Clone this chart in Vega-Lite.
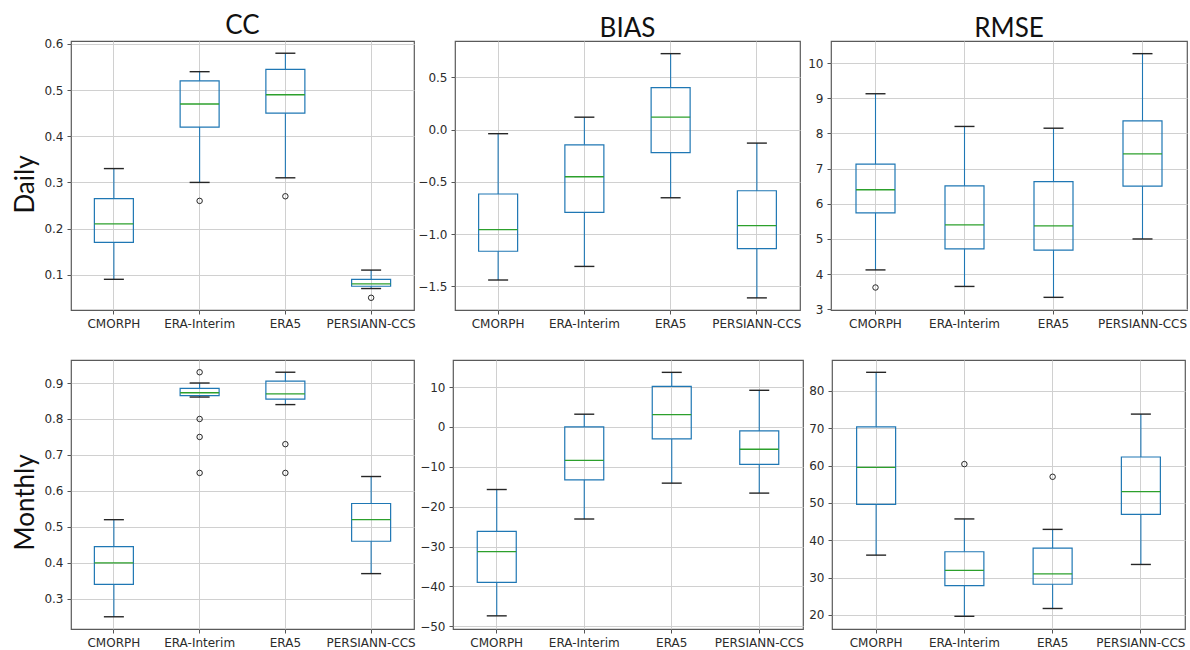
{
 "$schema": "https://vega.github.io/schema/vega-lite/v6.json",
 "padding": {"left": 11, "top": 12, "right": 0, "bottom": 0},
 "background": "white",
 "datasets": {
  "d": [
   {"t":"box","m":"CC","s":"Daily","p":"CMORPH","lo":0.09,"q1":0.17,"med":0.21,"q3":0.265,"hi":0.33},
   {"t":"box","m":"CC","s":"Daily","p":"ERA-Interim","lo":0.30,"q1":0.42,"med":0.47,"q3":0.52,"hi":0.54},
   {"t":"box","m":"CC","s":"Daily","p":"ERA5","lo":0.31,"q1":0.45,"med":0.49,"q3":0.545,"hi":0.58},
   {"t":"box","m":"CC","s":"Daily","p":"PERSIANN-CCS","lo":0.07,"q1":0.075,"med":0.08,"q3":0.09,"hi":0.11},
   {"t":"out","m":"CC","s":"Daily","p":"ERA-Interim","v":0.26},
   {"t":"out","m":"CC","s":"Daily","p":"ERA5","v":0.27},
   {"t":"out","m":"CC","s":"Daily","p":"PERSIANN-CCS","v":0.05},
   {"t":"box","m":"BIAS","s":"Daily","p":"CMORPH","lo":-1.44,"q1":-1.165,"med":-0.958,"q3":-0.617,"hi":-0.04},
   {"t":"box","m":"BIAS","s":"Daily","p":"ERA-Interim","lo":-1.31,"q1":-0.793,"med":-0.452,"q3":-0.146,"hi":0.118},
   {"t":"box","m":"BIAS","s":"Daily","p":"ERA5","lo":-0.653,"q1":-0.222,"med":0.118,"q3":0.40,"hi":0.726},
   {"t":"box","m":"BIAS","s":"Daily","p":"PERSIANN-CCS","lo":-1.611,"q1":-1.14,"med":-0.92,"q3":-0.586,"hi":-0.13},
   {"t":"box","m":"RMSE","s":"Daily","p":"CMORPH","lo":4.12,"q1":5.74,"med":6.40,"q3":7.13,"hi":9.13},
   {"t":"box","m":"RMSE","s":"Daily","p":"ERA-Interim","lo":3.65,"q1":4.72,"med":5.40,"q3":6.51,"hi":8.20},
   {"t":"box","m":"RMSE","s":"Daily","p":"ERA5","lo":3.34,"q1":4.68,"med":5.37,"q3":6.63,"hi":8.15},
   {"t":"box","m":"RMSE","s":"Daily","p":"PERSIANN-CCS","lo":5.0,"q1":6.50,"med":7.42,"q3":8.36,"hi":10.27},
   {"t":"out","m":"RMSE","s":"Daily","p":"CMORPH","v":3.62},
   {"t":"box","m":"CC","s":"Monthly","p":"CMORPH","lo":0.25,"q1":0.34,"med":0.40,"q3":0.445,"hi":0.52},
   {"t":"box","m":"CC","s":"Monthly","p":"ERA-Interim","lo":0.861,"q1":0.865,"med":0.873,"q3":0.885,"hi":0.90},
   {"t":"box","m":"CC","s":"Monthly","p":"ERA5","lo":0.84,"q1":0.855,"med":0.87,"q3":0.905,"hi":0.93},
   {"t":"box","m":"CC","s":"Monthly","p":"PERSIANN-CCS","lo":0.37,"q1":0.46,"med":0.52,"q3":0.565,"hi":0.64},
   {"t":"out","m":"CC","s":"Monthly","p":"ERA-Interim","v":0.93},
   {"t":"out","m":"CC","s":"Monthly","p":"ERA-Interim","v":0.80},
   {"t":"out","m":"CC","s":"Monthly","p":"ERA-Interim","v":0.75},
   {"t":"out","m":"CC","s":"Monthly","p":"ERA-Interim","v":0.65},
   {"t":"out","m":"CC","s":"Monthly","p":"ERA5","v":0.73},
   {"t":"out","m":"CC","s":"Monthly","p":"ERA5","v":0.65},
   {"t":"box","m":"BIAS","s":"Monthly","p":"CMORPH","lo":-47.4,"q1":-39.0,"med":-31.3,"q3":-26.2,"hi":-15.7},
   {"t":"box","m":"BIAS","s":"Monthly","p":"ERA-Interim","lo":-23.1,"q1":-13.3,"med":-8.4,"q3":0.0,"hi":3.2},
   {"t":"box","m":"BIAS","s":"Monthly","p":"ERA5","lo":-14.1,"q1":-3.0,"med":3.1,"q3":10.2,"hi":13.7},
   {"t":"box","m":"BIAS","s":"Monthly","p":"PERSIANN-CCS","lo":-16.6,"q1":-9.4,"med":-5.6,"q3":-1.0,"hi":9.2},
   {"t":"box","m":"RMSE","s":"Monthly","p":"CMORPH","lo":36.0,"q1":49.6,"med":59.5,"q3":70.4,"hi":85.0},
   {"t":"box","m":"RMSE","s":"Monthly","p":"ERA-Interim","lo":19.6,"q1":27.8,"med":31.9,"q3":36.9,"hi":45.7},
   {"t":"box","m":"RMSE","s":"Monthly","p":"ERA5","lo":21.7,"q1":28.2,"med":31.0,"q3":37.9,"hi":42.9},
   {"t":"box","m":"RMSE","s":"Monthly","p":"PERSIANN-CCS","lo":33.5,"q1":46.9,"med":53.0,"q3":62.3,"hi":73.8},
   {"t":"out","m":"RMSE","s":"Monthly","p":"ERA-Interim","v":60.4},
   {"t":"out","m":"RMSE","s":"Monthly","p":"ERA5","v":57.0}
  ]
 },
 "config": {
  "view": {"stroke": "#5a5a5a", "strokeWidth": 1.2},
  "axis": {"grid": true, "gridColor": "#d0d0d0", "gridWidth": 1, "domain": false, "labelFont": "DejaVu Sans", "labelFontSize": 12, "labelColor": "#2b2b2b", "tickColor": "#555555", "tickSize": 4, "labelPadding": 4, "labelOverlap": false, "titleFont": "Lato", "titleFontSize": 26, "titleFontWeight": "normal", "titleColor": "#111111"},
  "axisY": {"tickCount": 20},
  "title": {"font": "Lato", "fontSize": 26, "fontWeight": "normal", "color": "#111111", "baseline": "alphabetic", "offset": -1, "frame": "group", "anchor": "middle"}
 },
 "spacing": 29,
 "vconcat": [
  {"spacing": 1, "hconcat": [
   {"width": 343, "height": 269, "title": "CC",
    "data": {"name": "d"},
    "transform": [{"filter": "datum.m=='CC' && datum.s=='Daily'"}],
    "encoding": {"x": {"field": "p", "type": "nominal", "title": null, "scale": {"domain": ["CMORPH","ERA-Interim","ERA5","PERSIANN-CCS"], "paddingInner": 0, "paddingOuter": 0}, "axis": {"labelAngle": 0, "bandPosition": 0.5, "grid": true}}},
    "layer": [
     {"transform": [{"filter": "datum.t=='box'"}], "mark": {"type": "rule", "color": "#1f77b4", "strokeWidth": 1.1}, "encoding": {"y": {"field": "lo", "type": "quantitative", "title": "Daily", "scale": {"domain": [0.0235, 0.6065], "nice": false, "zero": false}, "axis": {"values": [0.1,0.2,0.3,0.4,0.5,0.6], "format": ".1f", "titleX": -38, "titleY": 143, "titleBaseline": "alphabetic"}}, "y2": {"field": "q1"}}},
     {"transform": [{"filter": "datum.t=='box'"}], "mark": {"type": "rule", "color": "#1f77b4", "strokeWidth": 1.1}, "encoding": {"y": {"field": "q3", "type": "quantitative", "title": "Daily"}, "y2": {"field": "hi"}}},
     {"transform": [{"filter": "datum.t=='box'"}], "mark": {"type": "bar", "size": 39, "fill": "transparent", "stroke": "#1f77b4", "strokeWidth": 1.2}, "encoding": {"y": {"field": "q1", "type": "quantitative", "title": "Daily"}, "y2": {"field": "q3"}}},
     {"transform": [{"filter": "datum.t=='box'"}], "mark": {"type": "tick", "size": 20, "thickness": 1.4, "color": "#262626", "opacity": 1}, "encoding": {"y": {"field": "lo", "type": "quantitative", "title": "Daily"}}},
     {"transform": [{"filter": "datum.t=='box'"}], "mark": {"type": "tick", "size": 20, "thickness": 1.4, "color": "#262626", "opacity": 1}, "encoding": {"y": {"field": "hi", "type": "quantitative", "title": "Daily"}}},
     {"transform": [{"filter": "datum.t=='box'"}], "mark": {"type": "tick", "size": 39, "thickness": 1.3, "color": "#2ca02c", "opacity": 1}, "encoding": {"y": {"field": "med", "type": "quantitative", "title": "Daily"}}},
     {"transform": [{"filter": "datum.t=='out'"}], "mark": {"type": "point", "shape": "circle", "filled": false, "size": 30, "color": "#262626", "strokeWidth": 1, "opacity": 1}, "encoding": {"y": {"field": "v", "type": "quantitative", "title": "Daily"}}}
    ]},
   {"spacing": 5, "hconcat": [
    {"width": 345, "height": 269, "title": "BIAS",
     "data": {"name": "d"},
     "transform": [{"filter": "datum.m=='BIAS' && datum.s=='Daily'"}],
     "encoding": {"x": {"field": "p", "type": "nominal", "title": null, "scale": {"domain": ["CMORPH","ERA-Interim","ERA5","PERSIANN-CCS"], "paddingInner": 0, "paddingOuter": 0}, "axis": {"labelAngle": 0, "bandPosition": 0.5, "grid": true}}},
     "layer": [
      {"transform": [{"filter": "datum.t=='box'"}], "mark": {"type": "rule", "color": "#1f77b4", "strokeWidth": 1.1}, "encoding": {"y": {"field": "lo", "type": "quantitative", "title": null, "scale": {"domain": [-1.727, 0.847], "nice": false, "zero": false}, "axis": {"values": [-1.5,-1,-0.5,0,0.5], "format": ".1f"}}, "y2": {"field": "q1"}}},
      {"transform": [{"filter": "datum.t=='box'"}], "mark": {"type": "rule", "color": "#1f77b4", "strokeWidth": 1.1}, "encoding": {"y": {"field": "q3", "type": "quantitative", "title": null}, "y2": {"field": "hi"}}},
      {"transform": [{"filter": "datum.t=='box'"}], "mark": {"type": "bar", "size": 39, "fill": "transparent", "stroke": "#1f77b4", "strokeWidth": 1.2}, "encoding": {"y": {"field": "q1", "type": "quantitative", "title": null}, "y2": {"field": "q3"}}},
      {"transform": [{"filter": "datum.t=='box'"}], "mark": {"type": "tick", "size": 20, "thickness": 1.4, "color": "#262626", "opacity": 1}, "encoding": {"y": {"field": "lo", "type": "quantitative", "title": null}}},
      {"transform": [{"filter": "datum.t=='box'"}], "mark": {"type": "tick", "size": 20, "thickness": 1.4, "color": "#262626", "opacity": 1}, "encoding": {"y": {"field": "hi", "type": "quantitative", "title": null}}},
      {"transform": [{"filter": "datum.t=='box'"}], "mark": {"type": "tick", "size": 39, "thickness": 1.3, "color": "#2ca02c", "opacity": 1}, "encoding": {"y": {"field": "med", "type": "quantitative", "title": null}}}
     ]},
    {"width": 356, "height": 269, "title": "RMSE",
     "data": {"name": "d"},
     "transform": [{"filter": "datum.m=='RMSE' && datum.s=='Daily'"}],
     "encoding": {"x": {"field": "p", "type": "nominal", "title": null, "scale": {"domain": ["CMORPH","ERA-Interim","ERA5","PERSIANN-CCS"], "paddingInner": 0, "paddingOuter": 0}, "axis": {"labelAngle": 0, "bandPosition": 0.5, "grid": true}}},
     "layer": [
      {"transform": [{"filter": "datum.t=='box'"}], "mark": {"type": "rule", "color": "#1f77b4", "strokeWidth": 1.1}, "encoding": {"y": {"field": "lo", "type": "quantitative", "title": null, "scale": {"domain": [2.98, 10.63], "nice": false, "zero": false}, "axis": {"values": [3,4,5,6,7,8,9,10], "format": "d"}}, "y2": {"field": "q1"}}},
      {"transform": [{"filter": "datum.t=='box'"}], "mark": {"type": "rule", "color": "#1f77b4", "strokeWidth": 1.1}, "encoding": {"y": {"field": "q3", "type": "quantitative", "title": null}, "y2": {"field": "hi"}}},
      {"transform": [{"filter": "datum.t=='box'"}], "mark": {"type": "bar", "size": 39, "fill": "transparent", "stroke": "#1f77b4", "strokeWidth": 1.2}, "encoding": {"y": {"field": "q1", "type": "quantitative", "title": null}, "y2": {"field": "q3"}}},
      {"transform": [{"filter": "datum.t=='box'"}], "mark": {"type": "tick", "size": 20, "thickness": 1.4, "color": "#262626", "opacity": 1}, "encoding": {"y": {"field": "lo", "type": "quantitative", "title": null}}},
      {"transform": [{"filter": "datum.t=='box'"}], "mark": {"type": "tick", "size": 20, "thickness": 1.4, "color": "#262626", "opacity": 1}, "encoding": {"y": {"field": "hi", "type": "quantitative", "title": null}}},
      {"transform": [{"filter": "datum.t=='box'"}], "mark": {"type": "tick", "size": 39, "thickness": 1.3, "color": "#2ca02c", "opacity": 1}, "encoding": {"y": {"field": "med", "type": "quantitative", "title": null}}},
      {"transform": [{"filter": "datum.t=='out'"}], "mark": {"type": "point", "shape": "circle", "filled": false, "size": 30, "color": "#262626", "strokeWidth": 1, "opacity": 1}, "encoding": {"y": {"field": "v", "type": "quantitative", "title": null}}}
     ]}
   ]}
  ]},
  {"spacing": 3, "hconcat": [
   {"width": 343, "height": 269,
    "data": {"name": "d"},
    "transform": [{"filter": "datum.m=='CC' && datum.s=='Monthly'"}],
    "encoding": {"x": {"field": "p", "type": "nominal", "title": null, "scale": {"domain": ["CMORPH","ERA-Interim","ERA5","PERSIANN-CCS"], "paddingInner": 0, "paddingOuter": 0}, "axis": {"labelAngle": 0, "bandPosition": 0.5, "grid": true}}},
    "layer": [
     {"transform": [{"filter": "datum.t=='box'"}], "mark": {"type": "rule", "color": "#1f77b4", "strokeWidth": 1.1}, "encoding": {"y": {"field": "lo", "type": "quantitative", "title": "Monthly", "scale": {"domain": [0.216, 0.964], "nice": false, "zero": false}, "axis": {"values": [0.3,0.4,0.5,0.6,0.7,0.8,0.9], "format": ".1f", "titleX": -38, "titleY": 142, "titleBaseline": "alphabetic"}}, "y2": {"field": "q1"}}},
     {"transform": [{"filter": "datum.t=='box'"}], "mark": {"type": "rule", "color": "#1f77b4", "strokeWidth": 1.1}, "encoding": {"y": {"field": "q3", "type": "quantitative", "title": "Monthly"}, "y2": {"field": "hi"}}},
     {"transform": [{"filter": "datum.t=='box'"}], "mark": {"type": "bar", "size": 39, "fill": "transparent", "stroke": "#1f77b4", "strokeWidth": 1.2}, "encoding": {"y": {"field": "q1", "type": "quantitative", "title": "Monthly"}, "y2": {"field": "q3"}}},
     {"transform": [{"filter": "datum.t=='box'"}], "mark": {"type": "tick", "size": 20, "thickness": 1.4, "color": "#262626", "opacity": 1}, "encoding": {"y": {"field": "lo", "type": "quantitative", "title": "Monthly"}}},
     {"transform": [{"filter": "datum.t=='box'"}], "mark": {"type": "tick", "size": 20, "thickness": 1.4, "color": "#262626", "opacity": 1}, "encoding": {"y": {"field": "hi", "type": "quantitative", "title": "Monthly"}}},
     {"transform": [{"filter": "datum.t=='box'"}], "mark": {"type": "tick", "size": 39, "thickness": 1.3, "color": "#2ca02c", "opacity": 1}, "encoding": {"y": {"field": "med", "type": "quantitative", "title": "Monthly"}}},
     {"transform": [{"filter": "datum.t=='out'"}], "mark": {"type": "point", "shape": "circle", "filled": false, "size": 30, "color": "#262626", "strokeWidth": 1, "opacity": 1}, "encoding": {"y": {"field": "v", "type": "quantitative", "title": "Monthly"}}}
    ]},
   {"spacing": 4, "hconcat": [
    {"width": 350, "height": 269,
     "data": {"name": "d"},
     "transform": [{"filter": "datum.m=='BIAS' && datum.s=='Monthly'"}],
     "encoding": {"x": {"field": "p", "type": "nominal", "title": null, "scale": {"domain": ["CMORPH","ERA-Interim","ERA5","PERSIANN-CCS"], "paddingInner": 0, "paddingOuter": 0}, "axis": {"labelAngle": 0, "bandPosition": 0.5, "grid": true}}},
     "layer": [
      {"transform": [{"filter": "datum.t=='box'"}], "mark": {"type": "rule", "color": "#1f77b4", "strokeWidth": 1.1}, "encoding": {"y": {"field": "lo", "type": "quantitative", "title": null, "scale": {"domain": [-50.7, 16.8], "nice": false, "zero": false}, "axis": {"values": [-50,-40,-30,-20,-10,0,10], "format": "d"}}, "y2": {"field": "q1"}}},
      {"transform": [{"filter": "datum.t=='box'"}], "mark": {"type": "rule", "color": "#1f77b4", "strokeWidth": 1.1}, "encoding": {"y": {"field": "q3", "type": "quantitative", "title": null}, "y2": {"field": "hi"}}},
      {"transform": [{"filter": "datum.t=='box'"}], "mark": {"type": "bar", "size": 39, "fill": "transparent", "stroke": "#1f77b4", "strokeWidth": 1.2}, "encoding": {"y": {"field": "q1", "type": "quantitative", "title": null}, "y2": {"field": "q3"}}},
      {"transform": [{"filter": "datum.t=='box'"}], "mark": {"type": "tick", "size": 20, "thickness": 1.4, "color": "#262626", "opacity": 1}, "encoding": {"y": {"field": "lo", "type": "quantitative", "title": null}}},
      {"transform": [{"filter": "datum.t=='box'"}], "mark": {"type": "tick", "size": 20, "thickness": 1.4, "color": "#262626", "opacity": 1}, "encoding": {"y": {"field": "hi", "type": "quantitative", "title": null}}},
      {"transform": [{"filter": "datum.t=='box'"}], "mark": {"type": "tick", "size": 39, "thickness": 1.3, "color": "#2ca02c", "opacity": 1}, "encoding": {"y": {"field": "med", "type": "quantitative", "title": null}}}
     ]},
    {"width": 353, "height": 269,
     "data": {"name": "d"},
     "transform": [{"filter": "datum.m=='RMSE' && datum.s=='Monthly'"}],
     "encoding": {"x": {"field": "p", "type": "nominal", "title": null, "scale": {"domain": ["CMORPH","ERA-Interim","ERA5","PERSIANN-CCS"], "paddingInner": 0, "paddingOuter": 0}, "axis": {"labelAngle": 0, "bandPosition": 0.5, "grid": true}}},
     "layer": [
      {"transform": [{"filter": "datum.t=='box'"}], "mark": {"type": "rule", "color": "#1f77b4", "strokeWidth": 1.1}, "encoding": {"y": {"field": "lo", "type": "quantitative", "title": null, "scale": {"domain": [16.2, 88.3], "nice": false, "zero": false}, "axis": {"values": [20,30,40,50,60,70,80], "format": "d"}}, "y2": {"field": "q1"}}},
      {"transform": [{"filter": "datum.t=='box'"}], "mark": {"type": "rule", "color": "#1f77b4", "strokeWidth": 1.1}, "encoding": {"y": {"field": "q3", "type": "quantitative", "title": null}, "y2": {"field": "hi"}}},
      {"transform": [{"filter": "datum.t=='box'"}], "mark": {"type": "bar", "size": 39, "fill": "transparent", "stroke": "#1f77b4", "strokeWidth": 1.2}, "encoding": {"y": {"field": "q1", "type": "quantitative", "title": null}, "y2": {"field": "q3"}}},
      {"transform": [{"filter": "datum.t=='box'"}], "mark": {"type": "tick", "size": 20, "thickness": 1.4, "color": "#262626", "opacity": 1}, "encoding": {"y": {"field": "lo", "type": "quantitative", "title": null}}},
      {"transform": [{"filter": "datum.t=='box'"}], "mark": {"type": "tick", "size": 20, "thickness": 1.4, "color": "#262626", "opacity": 1}, "encoding": {"y": {"field": "hi", "type": "quantitative", "title": null}}},
      {"transform": [{"filter": "datum.t=='box'"}], "mark": {"type": "tick", "size": 39, "thickness": 1.3, "color": "#2ca02c", "opacity": 1}, "encoding": {"y": {"field": "med", "type": "quantitative", "title": null}}},
      {"transform": [{"filter": "datum.t=='out'"}], "mark": {"type": "point", "shape": "circle", "filled": false, "size": 30, "color": "#262626", "strokeWidth": 1, "opacity": 1}, "encoding": {"y": {"field": "v", "type": "quantitative", "title": null}}}
     ]}
   ]}
  ]}
 ]
}
